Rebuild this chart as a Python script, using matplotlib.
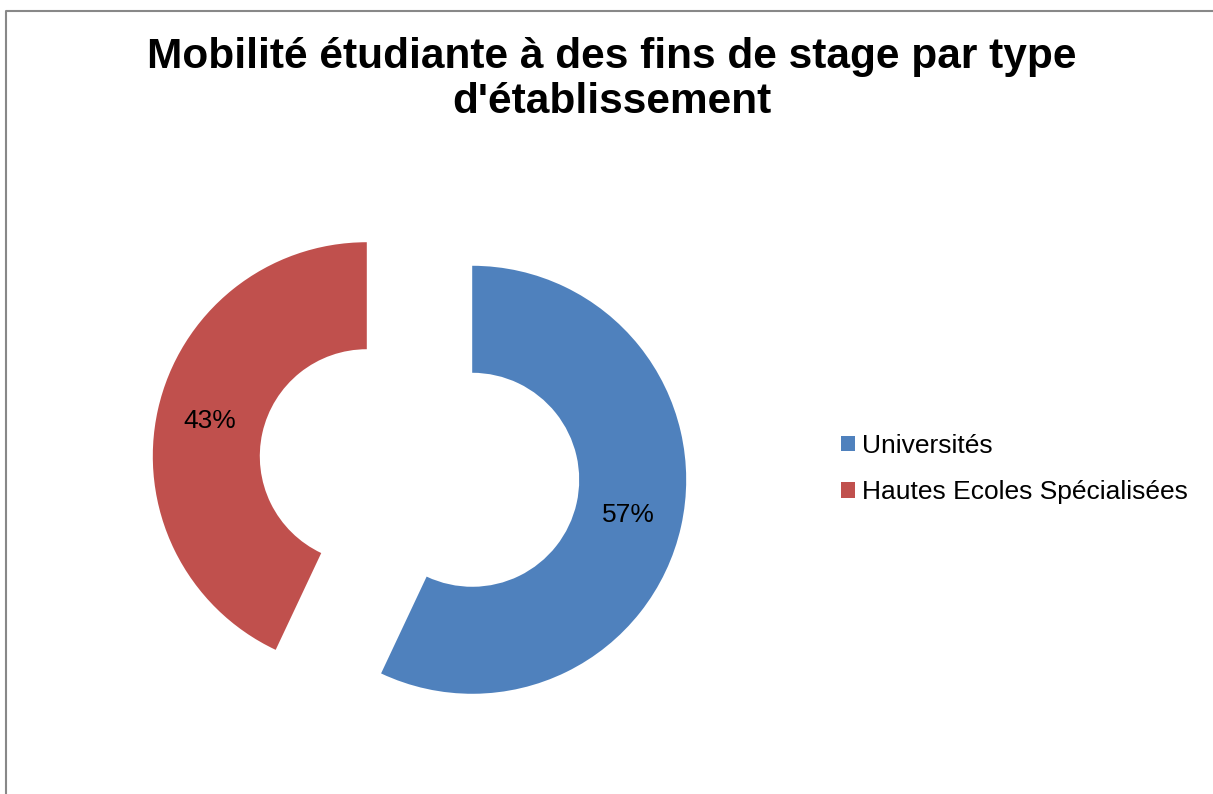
import matplotlib
matplotlib.use("Agg")
from matplotlib import pyplot as plt
from matplotlib.lines import Line2D
import math

plt.rcParams['font.family'] = ['Liberation Sans', 'DejaVu Sans']

labels = ["Universités", "Hautes Ecoles Spécialisées"]
values = [57, 43]
colors = ["#4F81BD", "#C0504D"]
title_lines = ["Mobilité étudiante à des fins de stage par type", "d'établissement"]

W, H = 1213, 794
fig = plt.figure(figsize=(W / 100, H / 100), dpi=100)
ax = fig.add_axes([0, 0, 1, 1])

# pie drawn in pixel units so placement follows the reference
R = 214
wedges, texts = ax.pie(values, colors=colors, radius=R, center=(419.5, H - 468),
                       startangle=90, counterclock=False, explode=[54, 54],
                       wedgeprops=dict(width=R * 0.5, linewidth=0),
                       frame=True)
ax.set_xlim(0, W)
ax.set_ylim(0, H)
ax.set_aspect('equal')
ax.axis('off')

# percent labels at the middle of the ring
for w, v in zip(wedges, values):
    cx, cy = w.center
    mid = math.radians((w.theta1 + w.theta2) / 2)
    ax.text(cx + 0.75 * R * math.cos(mid), cy + 0.75 * R * math.sin(mid),
            f"{v}%", ha='center', va='center', fontsize=19, color='black')

for line, base in zip(title_lines, [68, 113]):
    fig.text(612 / W, 1 - base / H, line, ha='center', va='baseline',
             fontsize=30.5, fontweight='bold')

leg = ax.legend(wedges, labels, loc='center left',
                bbox_to_anchor=(830.5 / W, 1 - 469 / H), bbox_transform=fig.transFigure,
                frameon=False, fontsize=19, handlelength=0.53, handleheight=0.53,
                handletextpad=0.27, labelspacing=0.85, borderaxespad=0)

# outer chart border (left and top edges visible)
fig.add_artist(Line2D([5.5 / W, 5.5 / W, 1.0], [0, 1 - 10.5 / H, 1 - 10.5 / H],
                      transform=fig.transFigure, color='#888888', lw=1.5))

fig.savefig("out.png", dpi=100)
